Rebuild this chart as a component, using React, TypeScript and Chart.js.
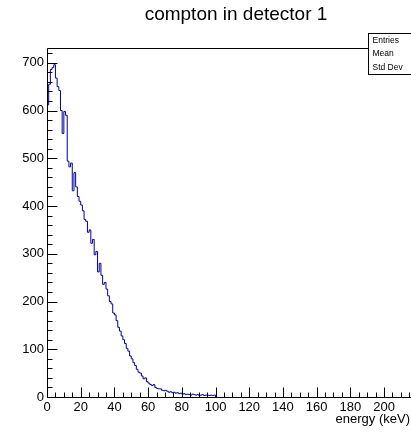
import React, { useEffect, useRef } from "react";
import { Chart, registerables } from "chart.js";

Chart.register(...registerables);

// Histogram "compton in detector 1": counts per 1 keV bin, starting at 0 keV
const binWidth = 1;
const binValues = [
  612, 655, 686, 690, 696, 668, 650, 642, 600, 552,
  598, 590, 494, 482, 490, 432, 470, 440, 420, 410,
  402, 390, 372, 368, 345, 350, 322, 330, 298, 305,
  262, 280, 255, 236, 240, 226, 212, 200, 195, 176,
  172, 160, 146, 138, 128, 120, 112, 102, 96, 86,
  80, 72, 66, 58, 52, 50, 44, 38, 40, 32,
  29, 26, 24, 26, 20, 18, 17, 17, 14, 13,
  14, 12, 10, 11, 9, 10, 8, 9, 7, 8,
  6, 7, 5, 6, 5, 4, 6, 5, 4, 5,
  3, 4, 5, 3, 4, 4, 3, 4, 3, 4,
];
const xRange = [0, 216];
const yRange = [0, 731];
const xMajorStep = 20;
const xMinorStep = 5;
const yMajorStep = 100;
const yMinorStep = 20;
const titleText = "compton in detector 1";
const xAxisTitle = "energy (keV)";
const statsLabels = ["Entries", "Mean", "Std Dev"];

const FONT = "'Liberation Sans', Arial, Helvetica, sans-serif";

const rootStylePlugin = {
  id: "rootStyle",
  afterDraw(chart: any) {
    const { ctx, chartArea, scales } = chart;
    const xs = scales.x;
    const ys = scales.y;
    const L = Math.round(chartArea.left) + 0.5;
    const B = Math.round(chartArea.bottom) + 0.5;
    const T = Math.round(chartArea.top) + 0.5;
    const R = chartArea.right;
    ctx.save();
    ctx.strokeStyle = "#000";
    ctx.lineWidth = 1;
    ctx.beginPath();
    ctx.moveTo(L, T);
    ctx.lineTo(L, B);
    ctx.lineTo(R, B);
    ctx.moveTo(L, T);
    ctx.lineTo(R, T);
    ctx.stroke();

    // x ticks (inside, pointing up)
    ctx.beginPath();
    for (let v = xRange[0]; v <= xRange[1]; v += xMinorStep) {
      const px = Math.round(xs.getPixelForValue(v)) + 0.5;
      const len = v % xMajorStep === 0 ? 10 : 5;
      ctx.moveTo(px, B);
      ctx.lineTo(px, B - len);
    }
    // y ticks (inside, pointing right)
    for (let v = yRange[0]; v <= yRange[1]; v += yMinorStep) {
      const py = Math.round(ys.getPixelForValue(v)) + 0.5;
      const len = v % yMajorStep === 0 ? 10 : 5;
      ctx.moveTo(L, py);
      ctx.lineTo(L + len, py);
    }
    ctx.stroke();

    // title
    ctx.fillStyle = "#000";
    ctx.font = `19px ${FONT}`;
    ctx.textAlign = "center";
    ctx.textBaseline = "middle";
    ctx.fillText(titleText, 236, 15);

    // x axis title
    ctx.font = `13px ${FONT}`;
    ctx.textAlign = "right";
    ctx.fillText(xAxisTitle, chartArea.right - 1, 419);

    // stats box
    const bx = 368.5;
    const by = 33.5;
    ctx.fillStyle = "#fff";
    ctx.fillRect(bx, by, 60, 41);
    ctx.strokeRect(bx, by, 60, 41);
    ctx.fillStyle = "#000";
    ctx.font = `8.5px ${FONT}`;
    ctx.textAlign = "left";
    statsLabels.forEach((s, i) => {
      ctx.fillText(s, bx + 4, by + 7 + i * 13.5);
    });
    ctx.restore();
  },
};

export default function App() {
  const ref = useRef<HTMLCanvasElement | null>(null);
  useEffect(() => {
    if (!ref.current) return;
    const points = binValues.map((v, i) => ({ x: i * binWidth, y: v }));
    points.push({ x: binValues.length * binWidth, y: 0 });
    const chart = new Chart(ref.current, {
      type: "line",
      data: {
        datasets: [
          {
            data: points,
            stepped: "before",
            borderColor: "#00009c",
            borderWidth: 1,
            pointRadius: 0,
            fill: false,
          } as any,
        ],
      },
      options: {
        animation: false,
        responsive: false,
        maintainAspectRatio: false,
        layout: { padding: { top: 48, right: 0, left: 0, bottom: 0 } },
        plugins: { legend: { display: false }, tooltip: { enabled: false }, title: { display: false } },
        scales: {
          x: {
            type: "linear",
            min: xRange[0],
            max: xRange[1],
            grid: { display: false, drawTicks: false },
            border: { display: false },
            ticks: {
              stepSize: xMajorStep,
              includeBounds: false,
              padding: 3,
              color: "#000",
              maxRotation: 0,
              autoSkip: false,
              font: { family: FONT, size: 13 },
            },
            afterFit(scale: any) {
              scale.height = 37;
            },
          },
          y: {
            type: "linear",
            min: yRange[0],
            max: yRange[1],
            grid: { display: false, drawTicks: false },
            border: { display: false },
            ticks: {
              stepSize: yMajorStep,
              includeBounds: false,
              padding: 3,
              color: "#000",
              font: { family: FONT, size: 13 },
            },
            afterFit(scale: any) {
              scale.width = 47;
            },
          },
        },
      } as any,
      plugins: [rootStylePlugin],
    });
    return () => chart.destroy();
  }, []);
  return (
    <div style={{ position: "absolute", left: 0, top: 0, width: 411, height: 434, overflow: "hidden", background: "#fff" }}>
      <canvas ref={ref} width={411} height={434} style={{ display: "block", width: 411, height: 434 }} />
    </div>
  );
}
